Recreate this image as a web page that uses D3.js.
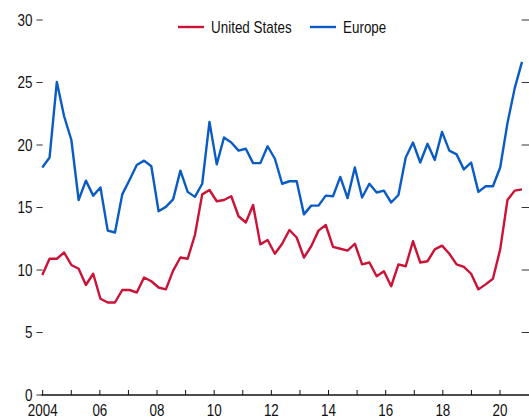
<!DOCTYPE html>
<html><head><meta charset="utf-8">
<script src="https://cdn.jsdelivr.net/npm/d3@7"></script>
<style>
html,body{margin:0;padding:0;background:#fff;}
svg{display:block;}
text{font-family:"Liberation Sans Narrow","Arial Narrow","Liberation Sans",sans-serif;font-size:16px;fill:#111;}
</style></head>
<body><svg id="chart" width="529" height="418"></svg>
<script>
// Quarterly data, 2004Q1 – 2020Q3
const quarters = [];
for (let y = 2004; y <= 2020; y++) for (let q = 1; q <= 4; q++) { if (y === 2020 && q === 4) break; quarters.push(y + "Q" + q); }

const unitedStates = [
  9.6, 10.9, 10.9, 11.4, 10.4, 10.1, 8.8, 9.7, 7.7, 7.4, 7.4, 8.4, 8.4, 8.2, 9.4, 9.1, 8.6,
  8.45, 9.95, 11.0, 10.9, 12.8, 16.05, 16.4, 15.5, 15.6, 15.9, 14.3, 13.8, 15.2, 12.05, 12.4, 11.3,
  12.1, 13.2, 12.6, 11.0, 11.9, 13.15, 13.6, 11.85, 11.7, 11.55, 12.1, 10.45, 10.6, 9.5, 9.9, 8.7, 10.45,
  10.3, 12.3, 10.6, 10.7, 11.65, 11.95, 11.3, 10.45, 10.25, 9.7, 8.45, 8.85, 9.3, 11.65, 15.6, 16.35, 16.45
];
const europe = [
  18.2, 19.0, 25.05, 22.3, 20.4, 15.6, 17.15, 15.95, 16.6, 13.15, 13.0, 16.05, 17.2, 18.4, 18.75, 18.3, 14.7,
  15.05, 15.65, 17.95, 16.25, 15.85, 16.9, 21.85, 18.45, 20.6, 20.2, 19.55, 19.7, 18.55, 18.55, 19.9, 18.9,
  16.9, 17.1, 17.1, 14.45, 15.15, 15.15, 15.95, 15.9, 17.45, 15.75, 18.2, 15.8, 16.9, 16.2, 16.35, 15.4, 16.0,
  19.0, 20.2, 18.6, 20.1, 18.8, 21.05, 19.55, 19.25, 18.05, 18.6, 16.25, 16.7, 16.7, 18.2, 21.75, 24.55, 26.65
];
const yTicks = [0, 5, 10, 15, 20, 25, 30];
const yearTicks = d3.range(2004, 2021);
const yearLabel = y => (y === 2004 ? "2004" : (y % 2 === 0 ? String(y).slice(2) : ""));
const seriesNames = ["United States", "Europe"];
const colors = ["#cc1236", "#0a5cc4"];

const svg = d3.select("#chart");
const x = d3.scalePoint().domain(quarters).range([42.3, 522]);
const xYear = d3.scaleLinear().domain([2004, 2021]).range([42.7, 528.6]);
const y = d3.scaleLinear().domain([0, 30]).range([395, 20]);
const SX = 0.84; // condensed face
const place = (px, py) => `translate(${px},${py}) scale(${SX},1)`;

// left y ticks + labels
const yl = svg.append("g");
yl.selectAll("line").data(yTicks).join("line")
  .attr("x1", 36.5).attr("x2", 42.7).attr("y1", d => y(d)).attr("y2", d => y(d))
  .attr("stroke", "#333").attr("stroke-width", 1);
yl.selectAll("text").data(yTicks).join("text")
  .attr("transform", d => place(32.5, y(d))).attr("dy", "0.36em").attr("text-anchor", "end").text(d => d);
// right y ticks
svg.append("g").selectAll("line").data(yTicks.filter(d => d > 0)).join("line")
  .attr("x1", 521.7).attr("x2", 529).attr("y1", d => y(d)).attr("y2", d => y(d))
  .attr("stroke", "#333").attr("stroke-width", 1);

// x axis
const xa = svg.append("g");
xa.append("line").attr("x1", 41.5).attr("x2", 529).attr("y1", y(0)).attr("y2", y(0))
  .attr("stroke", "#111").attr("stroke-width", 1.3);
xa.selectAll("line.t").data(yearTicks).join("line").attr("class", "t")
  .attr("x1", d => xYear(d)).attr("x2", d => xYear(d)).attr("y1", y(0)).attr("y2", y(0) - 5)
  .attr("stroke", "#111").attr("stroke-width", 1);
xa.selectAll("text").data(yearTicks.filter(d => yearLabel(d))).join("text")
  .attr("transform", d => place(xYear(d), 416)).attr("text-anchor", "middle").text(yearLabel);

// lines
const line = d3.line().x((d, i) => x(quarters[i])).y(d => y(d));
[unitedStates, europe].forEach((s, k) => {
  svg.append("path").datum(s).attr("d", line).attr("fill", "none")
    .attr("stroke", colors[k]).attr("stroke-width", 2.4).attr("stroke-linejoin", "round");
});

// legend
const legX = [178, 310];
seriesNames.forEach((n, k) => {
  svg.append("line").attr("x1", legX[k]).attr("x2", legX[k] + 26).attr("y1", 27).attr("y2", 27)
    .attr("stroke", colors[k]).attr("stroke-width", 2.4);
  svg.append("text").attr("transform", place(legX[k] + 33, 27)).attr("dy", "0.36em").text(n);
});
</script></body></html>
